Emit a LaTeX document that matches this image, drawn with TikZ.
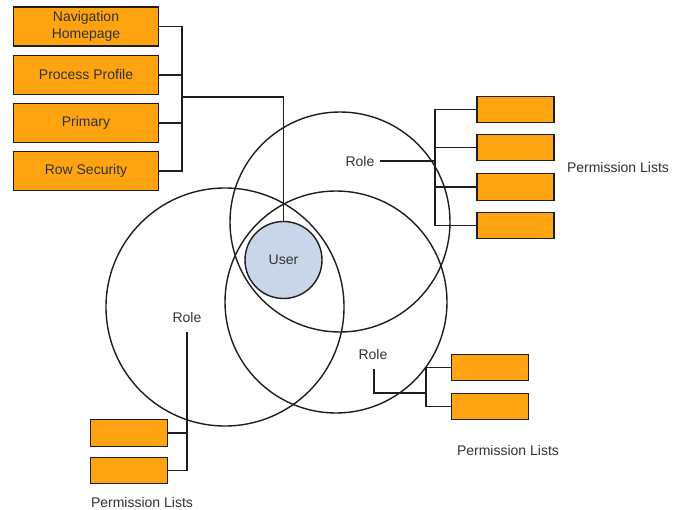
\documentclass[tikz,border=0pt]{standalone}
\usepackage{fontspec}
\setmainfont{Liberation Sans}
\definecolor{boxorange}{RGB}{255,164,16}
\definecolor{userblue}{RGB}{201,214,234}
\definecolor{linecol}{RGB}{30,30,30}
\definecolor{txtcol}{RGB}{50,50,50}
\begin{document}
\begin{tikzpicture}[x=1pt,y=-1pt,
  lbl/.style={font=\fontsize{14}{17}\selectfont, text=txtcol, inner sep=0pt},
  bigbox/.style={draw=linecol, fill=boxorange, line width=1.4pt, minimum width=145pt, minimum height=39pt, inner sep=0pt, align=center, font=\fontsize{14}{17}\selectfont, text=txtcol},
  permbox/.style={draw=linecol, fill=boxorange, line width=1.4pt, minimum width=77pt, minimum height=26.5pt, inner sep=0pt},
  wire/.style={draw=linecol, line width=1.4pt},
  ring/.style={draw=linecol, line width=1.4pt}]
\useasboundingbox (0,0) rectangle (680,510);
\fill[white] (0,0) rectangle (680,510);
% big circles
\draw[ring] (340,222) circle[radius=110];
\draw[ring] (225,307) circle[radius=119];
\draw[ring] (336,302) circle[radius=111];
% user
\node[ring, circle, fill=userblue, minimum size=77pt, inner sep=0pt, font=\fontsize{14}{17}\selectfont, text=txtcol] (user) at (283.5,260) {User};
% top-left boxes
\node[bigbox] (nav) at (86,26.5) {Navigation\\Homepage};
\node[bigbox] (proc) at (86,75) {Process Profile};
\node[bigbox] (prim) at (86,123) {Primary};
\node[bigbox] (row) at (86,171) {Row Security};
\coordinate (bt) at (182,26.5);
\coordinate (bb) at (182,171);
\coordinate (bj) at (182,97);
\coordinate (bu) at (user.north |- bj);
\draw[wire] (nav.east) -- (bt) -- (bb) -- (row.east);
\draw[wire] (proc.east) -- (proc.east -| bt);
\draw[wire] (prim.east) -- (prim.east -| bt);
\draw[wire] (bj) -- (bu) -- (user.north);
% top-right role
\node[lbl] (role1) at (360,161) {Role};
\node[permbox] (p1) at (515.5,109.5) {};
\node[permbox] (p2) at (515.5,147.5) {};
\node[permbox] (p3) at (515.5,187) {};
\node[permbox] (p4) at (515.5,225.5) {};
\coordinate (r1t) at (435,109.5);
\coordinate (r1b) at (435,225.5);
\coordinate (r1j) at (435,161);
\coordinate (r1s) at (380,161);
\draw[wire] (p1.west) -- (r1t) -- (r1b) -- (p4.west);
\draw[wire] (p2.west) -- (p2.west -| r1t);
\draw[wire] (p3.west) -- (p3.west -| r1t);
\draw[wire, line width=2.2pt] (r1s) -- (r1j);
\node[lbl] (pl1) at (618,167) {Permission Lists};
% bottom-right role
\node[lbl] (role2) at (373,354) {Role};
\node[permbox] (q1) at (490,367.5) {};
\node[permbox] (q2) at (490,406.5) {};
\coordinate (r2t) at (426,367.5);
\coordinate (r2b) at (426,406.5);
\coordinate (r2j) at (426,393);
\coordinate (r2s) at (374,369);
\coordinate (r2c) at (374,393);
\draw[wire] (q1.west) -- (r2t) -- (r2b) -- (q2.west);
\draw[wire] (r2s) -- (r2c) -- (r2j);
\node[lbl] (pl2) at (508,450) {Permission Lists};
% bottom-left role
\node[lbl] (role3) at (187,317) {Role};
\node[permbox] (s1) at (129,433) {};
\node[permbox] (s2) at (129,470.5) {};
\coordinate (r3t) at (187,332);
\coordinate (r3b) at (187,470.5);
\draw[wire] (r3t) -- (r3b) -- (s2.east);
\draw[wire] (s1.east) -- (s1.east -| r3t);
\node[lbl] (pl3) at (142,502) {Permission Lists};
\end{tikzpicture}
\end{document}
